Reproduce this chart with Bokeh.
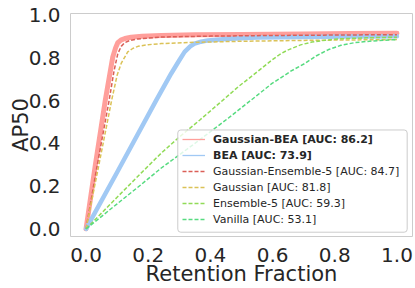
from bokeh.plotting import figure
from bokeh.models import Legend, LegendItem, BoxAnnotation, Range1d
from bokeh.embed import file_html
from bokeh.resources import INLINE

# ---- data ----
gbea_x = [0, 0.03, 0.062, 0.086, 0.095, 0.102, 0.112, 0.125, 0.145, 0.18, 0.242, 0.35, 0.5, 0.7, 0.85, 1.0]
gbea_y = [0, 0.30, 0.603, 0.805, 0.848, 0.872, 0.884, 0.892, 0.898, 0.902, 0.906, 0.909, 0.911, 0.913, 0.915, 0.916]

bea_x = [0, 0.10, 0.226, 0.274, 0.30, 0.317, 0.335, 0.349, 0.37, 0.392, 0.45, 0.55, 0.7, 0.85, 1.0]
bea_y = [0, 0.265, 0.603, 0.728, 0.79, 0.829, 0.855, 0.868, 0.877, 0.883, 0.89, 0.896, 0.899, 0.901, 0.902]

ge5_x = [0, 0.035, 0.074, 0.09, 0.102, 0.113, 0.124, 0.14, 0.167, 0.242, 0.4, 0.6, 0.8, 1.0]
ge5_y = [0, 0.29, 0.60, 0.74, 0.82, 0.855, 0.872, 0.882, 0.89, 0.899, 0.903, 0.906, 0.908, 0.91]

gauss_x = [0, 0.04, 0.082, 0.10, 0.113, 0.134, 0.15, 0.167, 0.2, 0.242, 0.35, 0.5, 0.7, 1.0]
gauss_y = [0, 0.29, 0.60, 0.72, 0.775, 0.829, 0.845, 0.855, 0.863, 0.868, 0.874, 0.879, 0.883, 0.887]

ens5_x = [0, 0.1, 0.177, 0.242, 0.30, 0.366, 0.43, 0.489, 0.55, 0.597, 0.624, 0.645, 0.661, 0.69, 0.726, 0.77, 0.812, 0.9, 1.0]
ens5_y = [0, 0.148, 0.261, 0.355, 0.43, 0.51, 0.59, 0.665, 0.735, 0.79, 0.818, 0.835, 0.845, 0.862, 0.875, 0.884, 0.89, 0.895, 0.898]

van_x = [0, 0.1, 0.177, 0.242, 0.35, 0.457, 0.489, 0.55, 0.597, 0.624, 0.66, 0.704, 0.74, 0.78, 0.82, 0.866, 0.92, 1.0]
van_y = [0, 0.117, 0.207, 0.285, 0.40, 0.518, 0.555, 0.625, 0.68, 0.705, 0.74, 0.775, 0.81, 0.84, 0.86, 0.873, 0.88, 0.887]

series_labels = [
    "Gaussian-BEA [AUC: 86.2]",
    "BEA [AUC: 73.9]",
    "Gaussian-Ensemble-5 [AUC: 84.7]",
    "Gaussian [AUC: 81.8]",
    "Ensemble-5 [AUC: 59.3]",
    "Vanilla [AUC: 53.1]",
]

xticks = [0.0, 0.2, 0.4, 0.6, 0.8, 1.0]
xtick_labels = ["0.0", "0.2", "0.4", "0.6", "0.8", "1.0"]
yticks = [0.0, 0.2, 0.4, 0.6, 0.8, 1.0]
ytick_labels = ["0.0", "0.2", "0.4", "0.6", "0.8", "1.0"]

x_label = "Retention Fraction"
y_label = "AP50"

# ---- styles ----
C_GBEA = "#ff9f9b"
C_BEA = "#a1c9f4"
C_GE5 = "#db5f57"
C_GAUSS = "#dbc257"
C_ENS5 = "#91db57"
C_VAN = "#57db80"
TXT = "#262626"
FONT = "DejaVu Sans"

p = figure(width=415, height=288, output_backend="svg", toolbar_location=None,
           x_range=Range1d(-0.05, 1.05), y_range=Range1d(-0.036, 1.009),
           min_border_left=70, min_border_right=3, min_border_top=13, min_border_bottom=51,
           background_fill_color="white", border_fill_color="white")
p.outline_line_color = "#cccccc"
p.outline_line_width = 1
p.xgrid.visible = False
p.ygrid.visible = False

for ax, ticks, labels, standoff, label, lab_standoff in (
        (p.xaxis, xticks, xtick_labels, 11, x_label, -3),
        (p.yaxis, yticks, ytick_labels, 10, y_label, -7)):
    ax.ticker = ticks
    ax.major_label_overrides = {t: l for t, l in zip(ticks, labels)}
    ax.axis_line_color = None
    ax.major_tick_line_color = None
    ax.minor_tick_line_color = None
    ax.major_tick_out = 0
    ax.major_tick_in = 0
    ax.minor_tick_out = 0
    ax.minor_tick_in = 0
    ax.major_label_standoff = standoff
    ax.major_label_text_font = FONT
    ax.major_label_text_font_size = "20px"
    ax.major_label_text_color = TXT
    ax.axis_label = label
    ax.axis_label_standoff = lab_standoff
    ax.axis_label_text_font = FONT
    ax.axis_label_text_font_size = "21px"
    ax.axis_label_text_font_style = "normal"
    ax.axis_label_text_color = TXT

# thin lines for the legend (hidden below the thick lines)
leg_gbea = p.line(gbea_x, gbea_y, line_color=C_GBEA, line_width=1.3)
leg_bea = p.line(bea_x, bea_y, line_color=C_BEA, line_width=1.3)

p.line(gbea_x, gbea_y, line_color=C_GBEA, line_width=5, line_join="round", line_cap="round")
p.line(bea_x, bea_y, line_color=C_BEA, line_width=4.5, line_join="round", line_cap="round")

r_ge5 = p.line(ge5_x, ge5_y, line_color=C_GE5, line_width=1.5, line_dash="4 2")
r_gauss = p.line(gauss_x, gauss_y, line_color=C_GAUSS, line_width=1.5, line_dash="4 2")
r_ens5 = p.line(ens5_x, ens5_y, line_color=C_ENS5, line_width=1.5, line_dash="4 2")
r_van = p.line(van_x, van_y, line_color=C_VAN, line_width=1.5, line_dash="4 2")

# legend frame
box = BoxAnnotation(left=0.2951, right=1.0329, bottom=-0.0159, top=0.4632,
                    fill_color="white", fill_alpha=0.8,
                    line_color="#cccccc", line_alpha=1.0, line_width=1, border_radius=3)
p.add_layout(box)

def make_legend(items, bold, loc):
    return Legend(items=items, location=loc, orientation="vertical",
                  padding=0, margin=0, spacing=0,
                  label_height=16, glyph_height=16, glyph_width=23, label_standoff=8,
                  label_text_font=FONT, label_text_font_size="11px",
                  label_text_color=TXT, label_text_font_style="bold" if bold else "normal",
                  background_fill_alpha=0, border_line_color=None)

lg1 = make_legend([LegendItem(label=series_labels[0], renderers=[leg_gbea]),
                   LegendItem(label=series_labels[1], renderers=[leg_bea])], True, (112, 73))
lg2 = make_legend([LegendItem(label=series_labels[2], renderers=[r_ge5]),
                   LegendItem(label=series_labels[3], renderers=[r_gauss]),
                   LegendItem(label=series_labels[4], renderers=[r_ens5]),
                   LegendItem(label=series_labels[5], renderers=[r_van])], False, (112, 9))
p.add_layout(lg1)
p.add_layout(lg2)

open("out.html", "w").write(file_html(p, INLINE))
